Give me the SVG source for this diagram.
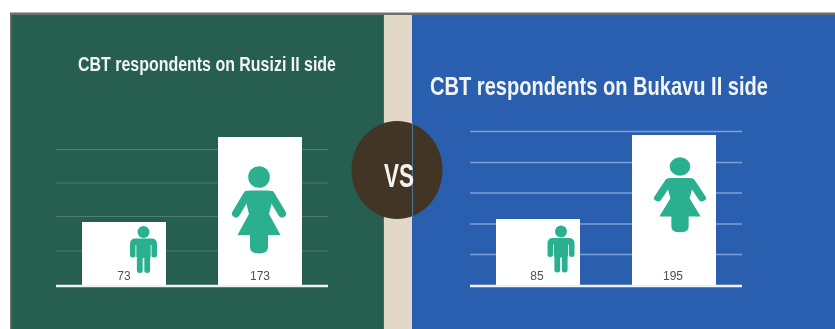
<svg xmlns="http://www.w3.org/2000/svg" xmlns:xlink="http://www.w3.org/1999/xlink" width="835" height="329" viewBox="0 0 835 329">
<style>
.title{font-family:"Liberation Sans Narrow","Liberation Sans",Arial,sans-serif;font-weight:700;fill:#f2f5f4}
.val{font-family:"Liberation Sans",Arial,sans-serif;font-size:12px;fill:#4f4f4f;text-anchor:middle}
.gl{stroke:#4f7f73;stroke-width:1.2}
.gr{stroke:#7c9fd4;stroke-width:1.4}
.base{stroke:#eef2f4;stroke-width:2.6}
.bar{fill:#fff}
.fig{fill:#2bb08f}
.arm{stroke:#2bb08f;stroke-linecap:round;fill:none}
</style>
<defs>
<filter id="soft" x="-5%" y="-5%" width="110%" height="110%"><feGaussianBlur stdDeviation="0.45"/></filter>
<g id="woman">
<circle class="fig" cx="0" cy="0" r="10.8"/>
<path class="fig" d="M-9,13.500H9Q13,13.500 15,17L10,37L21.500,58H-21.500L-10,37L-15,17Q-13,13.500 -9,13.500Z"/>
<path class="fig" d="M-9,55H9V70Q9,76.500 0,76.500Q-9,76.500 -9,70Z"/>
<path class="arm" stroke-width="8" d="M-12,18L-23,36.500M12,18L23,36.500"/>
</g>
<g id="man">
<circle class="fig" cx="0" cy="0" r="6"/>
<path class="fig" d="M-8,6.500H8Q13.500,6.500 13.500,12V23Q13.500,25.500 10.800,25.500Q8,25.500 8,23V13H7.200V25H6.600V38.500Q6.600,41 3.700,41Q0.800,41 0.800,38.500V26H-0.800V38.500Q-0.800,41 -3.700,41Q-6.600,41 -6.600,38.500V25H-7.200V13H-8V23Q-8,25.500 -10.800,25.500Q-13.500,25.500 -13.500,23V12Q-13.500,6.500 -8,6.500Z"/>
</g>
</defs>
<rect width="835" height="329" fill="#fff"/>
<g filter="url(#soft)">
<g id="background">
<rect x="10" y="12.500" width="825" height="317" fill="#6e6e6e"/>
<rect x="11.500" y="15" width="372" height="314" fill="#255e50"/>
<rect x="384" y="15" width="28" height="314" fill="#e2d8c8"/>
<rect x="412" y="15" width="423" height="314" fill="#2a5fb0"/>
</g>
<g id="panel-rusizi">
<text class="title" x="78" y="71" font-size="20" textLength="258" lengthAdjust="spacingAndGlyphs">CBT respondents on Rusizi II side</text>
<path class="gl" d="M56,149.500H328M56,183H328M56,216.500H328M56,251H328"/>
<g id="bar-rusizi-men">
<rect class="bar" x="82" y="222" width="84" height="64"/>
<use xlink:href="#man" href="#man" transform="translate(143.500,232)"/>
<text class="val" x="124" y="280">73</text>
</g>
<g id="bar-rusizi-women">
<rect class="bar" x="218" y="137" width="84" height="149"/>
<use xlink:href="#woman" href="#woman" transform="translate(259,177)"/>
<text class="val" x="260" y="280">173</text>
</g>
<path class="base" d="M56,286H328"/>
</g>
<g id="panel-bukavu">
<text class="title" transform="translate(430,95) scale(1,1.24)" x="0" y="0" font-size="21" textLength="338" lengthAdjust="spacingAndGlyphs">CBT respondents on Bukavu II side</text>
<path class="gr" d="M470,131.500H742M470,162.500H742M470,193H742M470,224H742M470,254.500H742"/>
<g id="bar-bukavu-men">
<rect class="bar" x="496" y="219" width="84" height="67"/>
<use xlink:href="#man" href="#man" transform="translate(561,231.500)"/>
<text class="val" x="537" y="280">85</text>
</g>
<g id="bar-bukavu-women">
<rect class="bar" x="632" y="135" width="84" height="151"/>
<use xlink:href="#woman" href="#woman" transform="translate(680,166.500) scale(0.96,0.86)"/>
<text class="val" x="673" y="280">195</text>
</g>
<path class="base" d="M470,286H742"/>
</g>
<g id="vs-badge">
<ellipse cx="397" cy="170" rx="45.500" ry="49" fill="#433526"/>
<path d="M412.500,122V218" stroke="#4f7596" stroke-width="1"/>
<text x="384" y="186.500" font-family="'Liberation Sans Narrow','Liberation Sans',Arial,sans-serif" font-weight="700" font-size="33" fill="#f6f4ef" textLength="30" lengthAdjust="spacingAndGlyphs">VS</text>
</g>
</g>
</svg>
